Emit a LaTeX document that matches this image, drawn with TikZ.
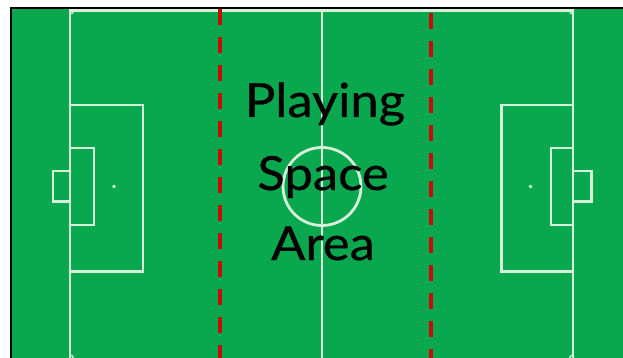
\documentclass[tikz,border=0pt]{standalone}
\usepackage{fontspec}
\setmainfont{Lato}
\newfontfamily\labelfont[FakeBold=0.6]{Lato}
\definecolor{pitch}{RGB}{10,168,78}
\definecolor{chalk}{RGB}{215,240,218}
\definecolor{zone}{RGB}{200,10,10}
\begin{document}
\begin{tikzpicture}[x=1pt,y=-1pt,
  mark line/.style={draw=chalk,line width=2.8pt},
  zone line/.style={draw=zone,line width=4pt,dash pattern=on 16pt off 12pt},
  label text/.style={font=\labelfont\fontsize{47}{52}\selectfont,text=black,inner sep=0pt,anchor=base,xscale=1.08}]
\useasboundingbox (0,0) rectangle (623,358);
\fill[white] (0,0) rectangle (623,358);
\fill[pitch] (11,8) rectangle (623,358);
\begin{scope}
\clip (12,9) rectangle (623,358);
% outer boundary
\draw[mark line] (70,10.5) rectangle (573,362.5);
% halfway line and circle
\draw[mark line] (322,10.5) -- (322,362.5);
\draw[mark line] (322,186.5) circle (39);
% left end
\draw[mark line] (70,105) rectangle (143,271.5);
\draw[mark line] (70,148) rectangle (94,225);
\draw[mark line] (53,171) rectangle (70,201.5);
\fill[chalk] (114,186.5) circle (1.8);
% right end
\draw[mark line] (573,105) rectangle (501.5,271.5);
\draw[mark line] (573,148) rectangle (551,225);
\draw[mark line] (591.5,171) rectangle (573,201.5);
\fill[chalk] (530.5,186.5) circle (1.8);
% corner arcs
\draw[draw=chalk,line width=1.4pt] (70,14) arc[start angle=90,end angle=0,radius=3.5];
\draw[draw=chalk,line width=1.4pt] (573,14) arc[start angle=90,end angle=180,radius=3.5];
\draw[draw=chalk,line width=1.4pt] (70,355) arc[start angle=-90,end angle=0,radius=3.5];
\draw[draw=chalk,line width=1.4pt] (573,355) arc[start angle=-90,end angle=-180,radius=3.5];
% zone dashed lines
\coordinate (za1) at (220,9);
\coordinate (za2) at (220,360);
\coordinate (zb1) at (430.5,13);
\coordinate (zb2) at (430.5,360);
\draw[zone line] (za1) -- (za2);
\draw[zone line] (zb1) -- (zb2);
\end{scope}
% frame edges
\draw[black,line width=2pt] (11,358) -- (11,8) -- (623,8);
% text
\node[label text] (t1) at (325,117) {Playing};
\node[label text] (t2) at (323,190) {Space};
\node[label text] (t3) at (323,260) {Area};
\end{tikzpicture}
\end{document}
